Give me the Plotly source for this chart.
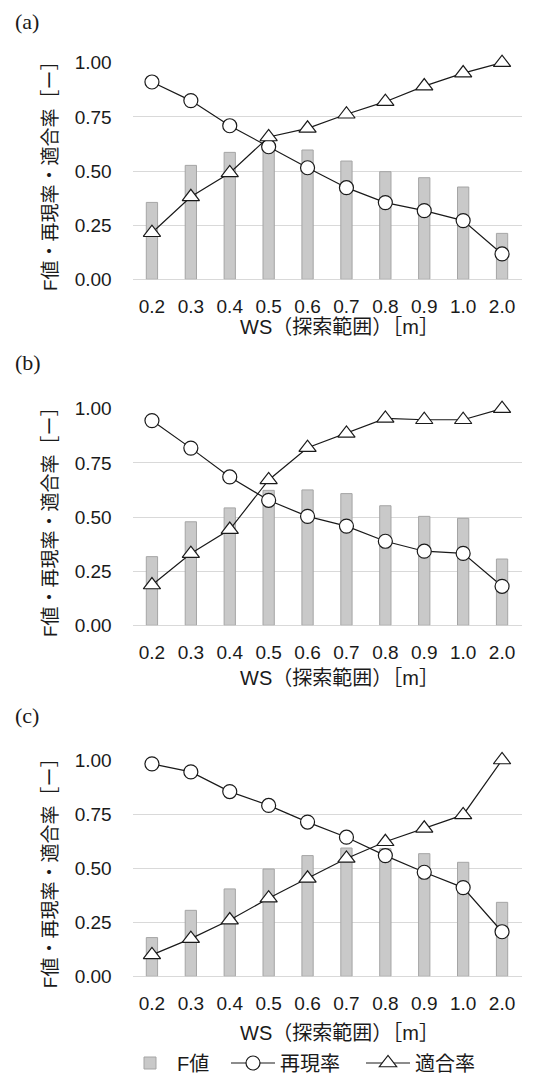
import plotly.graph_objects as go

categories = ["0.2", "0.3", "0.4", "0.5", "0.6", "0.7", "0.8", "0.9", "1.0", "2.0"]

f_a = [0.355, 0.526, 0.586, 0.625, 0.597, 0.546, 0.497, 0.469, 0.426, 0.212]
recall_a = [0.911, 0.825, 0.709, 0.612, 0.515, 0.423, 0.354, 0.317, 0.271, 0.117]
prec_a = [0.215, 0.381, 0.491, 0.657, 0.697, 0.762, 0.820, 0.892, 0.952, 1.000]

f_b = [0.317, 0.478, 0.542, 0.623, 0.625, 0.608, 0.552, 0.503, 0.494, 0.306]
recall_b = [0.945, 0.818, 0.685, 0.577, 0.503, 0.458, 0.388, 0.342, 0.332, 0.180]
prec_b = [0.186, 0.331, 0.442, 0.671, 0.820, 0.886, 0.955, 0.949, 0.949, 1.000]

f_c = [0.179, 0.305, 0.404, 0.496, 0.558, 0.593, 0.590, 0.567, 0.527, 0.342]
recall_c = [0.982, 0.945, 0.854, 0.790, 0.713, 0.643, 0.558, 0.481, 0.410, 0.206]
prec_c = [0.099, 0.174, 0.260, 0.361, 0.453, 0.545, 0.622, 0.684, 0.746, 1.000]

panel_labels = ["(a)", "(b)", "(c)"]
y_ticks = [0, 0.25, 0.5, 0.75, 1.0]
y_ticktext = ["0.00", "0.25", "0.50", "0.75", "1.00"]
x_title = "WS（探索範囲）［m］"
y_title = "F値・再現率・適合率［ー］"
series_names = ["F値", "再現率", "適合率"]
legend_widths = [44, 76, 70]

W, H = 533, 1077
FONT = "Liberation Sans, Arial, Noto Sans CJK JP"
# pixel positions of each panel (top gridline, zero gridline)
panels_px = [(62.7, 279.3), (408.7, 625.3), (760.0, 976.3)]
x_px = (132.5, 521.5)
label_y_px = [22, 362, 715]
xtitle_y_px = [327, 678, 1033]

fig = go.Figure()
data = [(f_a, recall_a, prec_a), (f_b, recall_b, prec_b), (f_c, recall_c, prec_c)]

for i, (f, rc, pr) in enumerate(data):
    xa = "x" if i == 0 else f"x{i+1}"
    ya = "y" if i == 0 else f"y{i+1}"
    show = i == 0
    fig.add_trace(go.Bar(
        x=categories, y=f, xaxis=xa, yaxis=ya, width=0.29,
        marker=dict(color="#c9c9c9", line=dict(color="#a5a5a5", width=1)),
        name=series_names[0], legendgroup="f", showlegend=show,
        legendwidth=legend_widths[0],
    ))
    fig.add_trace(go.Scatter(
        x=categories, y=rc, xaxis=xa, yaxis=ya, mode="lines+markers",
        line=dict(color="#1a1a1a", width=1.2),
        marker=dict(symbol="circle", size=14, color="white",
                    line=dict(color="#1a1a1a", width=1.2)),
        name=series_names[1], legendgroup="r", showlegend=show, cliponaxis=False,
        legendwidth=legend_widths[1],
    ))
    fig.add_trace(go.Scatter(
        x=categories, y=pr, xaxis=xa, yaxis=ya, mode="lines+markers",
        line=dict(color="#1a1a1a", width=1.2),
        marker=dict(symbol="triangle-up", size=15, color="white",
                    line=dict(color="#1a1a1a", width=1.2)),
        name=series_names[2], legendgroup="p", showlegend=show, cliponaxis=False,
        legendwidth=legend_widths[2],
    ))

layout = dict(
    width=W, height=H,
    margin=dict(l=0, r=0, t=0, b=0, autoexpand=False),
    paper_bgcolor="white", plot_bgcolor="white",
    font=dict(family=FONT, size=19, color="#1a1a1a"),
    showlegend=True,
    legend=dict(orientation="h", x=123 / W, xanchor="left",
                y=1 - 1063 / H, yanchor="middle",
                font=dict(size=20), itemwidth=44, tracegroupgap=0,
                bgcolor="rgba(0,0,0,0)"),
)

annotations = []
for i in range(3):
    top, bot = panels_px[i]
    suffix = "" if i == 0 else str(i + 1)
    layout["xaxis" + suffix] = dict(
        domain=[x_px[0] / W, x_px[1] / W],
        anchor="y" + suffix, type="category", range=[-0.5, 9.5],
        showgrid=False, showline=False, zeroline=False, automargin=False,
        ticks="outside", ticklen=10, tickcolor="rgba(0,0,0,0)",
        tickfont=dict(size=19),
    )
    layout["yaxis" + suffix] = dict(
        domain=[1 - bot / H, 1 - top / H],
        anchor="x" + suffix, range=[0, 1], automargin=False,
        tickvals=y_ticks, ticktext=y_ticktext,
        showgrid=True, gridcolor="#d9d9d9", gridwidth=1,
        zeroline=True, zerolinecolor="#d9d9d9", zerolinewidth=1,
        showline=False,
        ticks="outside", ticklen=16, tickcolor="rgba(0,0,0,0)",
        tickfont=dict(size=19),
    )
    annotations.append(dict(
        text=panel_labels[i], xref="paper", yref="paper",
        x=13 / W, y=1 - label_y_px[i] / H, xanchor="left", yanchor="middle",
        showarrow=False, font=dict(family="Liberation Serif, serif", size=22, color="#1a1a1a"),
    ))
    annotations.append(dict(
        text=x_title, xref="paper", yref="paper",
        x=339 / W, y=1 - xtitle_y_px[i] / H, xanchor="center", yanchor="middle",
        showarrow=False, font=dict(size=20),
    ))
    annotations.append(dict(
        text=y_title, xref="paper", yref="paper", textangle=-90,
        x=50 / W, y=1 - (top + bot) / 2 / H, xanchor="center", yanchor="middle",
        showarrow=False, font=dict(size=19),
    ))

layout["annotations"] = annotations
fig.update_layout(**layout)
fig.write_html("out.html", config={"displayModeBar": False},
               post_script="document.body.style.margin='0';document.body.style.overflow='hidden';")
